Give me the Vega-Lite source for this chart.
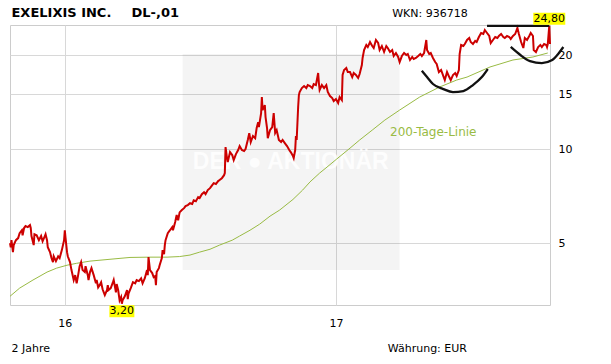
{
"$schema": "https://vega.github.io/schema/vega-lite/v6.json",
"width": 540, "height": 280,
"autosize": {"type": "none"},
"padding": {"left": 10, "top": 25, "right": 61, "bottom": 59},
"background": "#ffffff",
"config": {"view": {"stroke": "#cccccc", "strokeWidth": 1}, "font": "DejaVu Sans"},
"datasets": {
"price": [
{"date":"2015-10-19","value":5.00},{"date":"2015-10-20","value":4.85},{"date":"2015-10-21","value":5.11},{"date":"2015-10-23","value":4.68},{"date":"2015-10-24","value":4.93},{"date":"2015-10-27","value":5.11},{"date":"2015-10-30","value":5.19},{"date":"2015-11-01","value":5.38},{"date":"2015-11-04","value":5.50},{"date":"2015-11-05","value":5.30},{"date":"2015-11-07","value":5.59},{"date":"2015-11-09","value":5.67},{"date":"2015-11-12","value":5.63},{"date":"2015-11-15","value":5.71},{"date":"2015-11-16","value":5.59},{"date":"2015-11-17","value":5.27},{"date":"2015-11-19","value":5.04},{"date":"2015-11-20","value":4.93},{"date":"2015-11-21","value":5.34},{"date":"2015-11-24","value":5.30},{"date":"2015-11-27","value":5.11},{"date":"2015-11-30","value":5.27},{"date":"2015-12-02","value":5.07},{"date":"2015-12-05","value":5.27},{"date":"2015-12-06","value":5.34},{"date":"2015-12-08","value":5.11},{"date":"2015-12-09","value":4.85},{"date":"2015-12-12","value":4.68},{"date":"2015-12-14","value":4.48},{"date":"2015-12-16","value":4.35},{"date":"2015-12-17","value":4.54},{"date":"2015-12-20","value":4.38},{"date":"2015-12-23","value":4.54},{"date":"2015-12-25","value":4.48},{"date":"2015-12-28","value":4.75},{"date":"2015-12-31","value":5.11},
{"date":"2016-01-01","value":5.50},{"date":"2016-01-02","value":5.19},{"date":"2016-01-04","value":4.68},{"date":"2016-01-05","value":4.54},{"date":"2016-01-08","value":4.35},{"date":"2016-01-10","value":4.10},{"date":"2016-01-13","value":3.81},{"date":"2016-01-15","value":3.95},{"date":"2016-01-17","value":3.72},{"date":"2016-01-19","value":3.95},{"date":"2016-01-21","value":4.22},{"date":"2016-01-23","value":4.35},{"date":"2016-01-25","value":4.10},{"date":"2016-01-28","value":4.04},{"date":"2016-01-29","value":4.22},{"date":"2016-02-01","value":3.95},{"date":"2016-02-02","value":3.81},{"date":"2016-02-04","value":4.04},{"date":"2016-02-06","value":4.16},{"date":"2016-02-09","value":3.95},{"date":"2016-02-12","value":3.72},{"date":"2016-02-13","value":3.81},{"date":"2016-02-15","value":3.61},{"date":"2016-02-17","value":3.67},{"date":"2016-02-19","value":3.75},{"date":"2016-02-21","value":3.56},{"date":"2016-02-24","value":3.41},{"date":"2016-02-27","value":3.54},{"date":"2016-02-28","value":3.67},{"date":"2016-02-29","value":3.54},{"date":"2016-03-03","value":3.59},{"date":"2016-03-06","value":3.75},{"date":"2016-03-07","value":3.81},{"date":"2016-03-09","value":3.59},{"date":"2016-03-10","value":3.48},{"date":"2016-03-11","value":3.70},{"date":"2016-03-13","value":3.54},{"date":"2016-03-15","value":3.28},{"date":"2016-03-17","value":3.36},{"date":"2016-03-18","value":3.20},{"date":"2016-03-19","value":3.28},{"date":"2016-03-22","value":3.38},{"date":"2016-03-25","value":3.54},{"date":"2016-03-26","value":3.31},{"date":"2016-03-27","value":3.45},{"date":"2016-03-30","value":3.59},{"date":"2016-04-02","value":3.75},{"date":"2016-04-05","value":3.72},{"date":"2016-04-07","value":3.81},{"date":"2016-04-10","value":3.78},{"date":"2016-04-13","value":3.86},{"date":"2016-04-15","value":3.72},{"date":"2016-04-18","value":3.86},{"date":"2016-04-21","value":4.10},{"date":"2016-04-22","value":3.95},{"date":"2016-04-23","value":4.51},{"date":"2016-04-25","value":4.10},{"date":"2016-04-28","value":4.01},{"date":"2016-04-30","value":3.89},{"date":"2016-05-02","value":3.92},{"date":"2016-05-03","value":3.67},{"date":"2016-05-04","value":4.04},{"date":"2016-05-07","value":4.16},{"date":"2016-05-08","value":4.25},{"date":"2016-05-11","value":4.48},{"date":"2016-05-12","value":4.75},{"date":"2016-05-14","value":4.61},{"date":"2016-05-15","value":4.93},{"date":"2016-05-16","value":5.11},{"date":"2016-05-19","value":5.38},{"date":"2016-05-22","value":5.50},{"date":"2016-05-25","value":5.63},{"date":"2016-05-26","value":5.50},{"date":"2016-05-29","value":5.84},{"date":"2016-05-31","value":6.15},{"date":"2016-06-02","value":5.92},{"date":"2016-06-04","value":6.27},{"date":"2016-06-07","value":6.38},{"date":"2016-06-10","value":6.47},{"date":"2016-06-12","value":6.57},{"date":"2016-06-15","value":6.62},{"date":"2016-06-18","value":6.71},{"date":"2016-06-21","value":6.67},{"date":"2016-06-23","value":6.86},{"date":"2016-06-26","value":6.81},{"date":"2016-06-29","value":7.02},{"date":"2016-07-01","value":6.97},{"date":"2016-07-04","value":7.17},{"date":"2016-07-07","value":7.28},{"date":"2016-07-09","value":7.17},{"date":"2016-07-12","value":7.39},{"date":"2016-07-15","value":7.50},{"date":"2016-07-18","value":7.67},{"date":"2016-07-20","value":7.78},{"date":"2016-07-23","value":7.73},{"date":"2016-07-26","value":7.90},{"date":"2016-07-28","value":7.96},{"date":"2016-07-31","value":8.07},{"date":"2016-08-03","value":8.25},{"date":"2016-08-04","value":8.38},{"date":"2016-08-05","value":10.15},{"date":"2016-08-07","value":9.36},{"date":"2016-08-08","value":9.09},{"date":"2016-08-11","value":9.78},{"date":"2016-08-14","value":9.57},{"date":"2016-08-16","value":9.22},{"date":"2016-08-19","value":9.64},{"date":"2016-08-22","value":9.93},{"date":"2016-08-24","value":10.22},{"date":"2016-08-27","value":9.93},{"date":"2016-08-30","value":9.86},{"date":"2016-09-01","value":10.00},{"date":"2016-09-04","value":10.69},{"date":"2016-09-06","value":11.25},{"date":"2016-09-08","value":10.53},{"date":"2016-09-11","value":11.01},{"date":"2016-09-14","value":10.84},{"date":"2016-09-16","value":11.68},{"date":"2016-09-18","value":12.19},{"date":"2016-09-19","value":11.76},{"date":"2016-09-22","value":13.04},{"date":"2016-09-23","value":14.67},{"date":"2016-09-24","value":13.33},{"date":"2016-09-27","value":13.83},{"date":"2016-09-28","value":12.66},{"date":"2016-09-30","value":11.68},{"date":"2016-10-01","value":10.84},{"date":"2016-10-04","value":11.50},{"date":"2016-10-07","value":11.76},{"date":"2016-10-09","value":13.04},{"date":"2016-10-11","value":11.26},{"date":"2016-10-13","value":11.50},{"date":"2016-10-16","value":10.69},{"date":"2016-10-19","value":10.53},{"date":"2016-10-21","value":10.69},{"date":"2016-10-24","value":10.45},{"date":"2016-10-27","value":10.22},{"date":"2016-10-30","value":9.93},{"date":"2016-11-01","value":9.78},{"date":"2016-11-04","value":9.50},{"date":"2016-11-05","value":9.36},{"date":"2016-11-07","value":9.93},{"date":"2016-11-08","value":11.01},{"date":"2016-11-09","value":10.69},{"date":"2016-11-11","value":13.63},{"date":"2016-11-12","value":14.89},{"date":"2016-11-13","value":15.22},{"date":"2016-11-16","value":15.68},{"date":"2016-11-19","value":15.91},{"date":"2016-11-22","value":15.68},{"date":"2016-11-24","value":16.03},{"date":"2016-11-27","value":15.91},{"date":"2016-11-30","value":15.68},{"date":"2016-12-02","value":16.15},{"date":"2016-12-05","value":16.03},{"date":"2016-12-08","value":17.51},{"date":"2016-12-09","value":16.27},{"date":"2016-12-10","value":15.45},{"date":"2016-12-13","value":16.03},{"date":"2016-12-16","value":15.68},{"date":"2016-12-19","value":16.03},{"date":"2016-12-21","value":15.23},{"date":"2016-12-24","value":14.78},{"date":"2016-12-27","value":14.56},{"date":"2016-12-29","value":14.25},
{"date":"2017-01-01","value":14.46},{"date":"2017-01-04","value":14.04},{"date":"2017-01-06","value":14.67},{"date":"2017-01-09","value":14.35},{"date":"2017-01-10","value":17.26},{"date":"2017-01-12","value":17.91},{"date":"2017-01-15","value":18.17},{"date":"2017-01-17","value":17.64},{"date":"2017-01-20","value":17.64},{"date":"2017-01-23","value":17.00},{"date":"2017-01-25","value":17.51},{"date":"2017-01-28","value":17.26},{"date":"2017-01-31","value":16.88},{"date":"2017-02-02","value":17.38},{"date":"2017-02-05","value":18.58},{"date":"2017-02-06","value":19.57},{"date":"2017-02-08","value":20.75},{"date":"2017-02-11","value":21.53},{"date":"2017-02-13","value":21.21},{"date":"2017-02-16","value":22.01},{"date":"2017-02-19","value":21.37},{"date":"2017-02-21","value":21.06},{"date":"2017-02-24","value":22.34},{"date":"2017-02-27","value":21.85},{"date":"2017-03-01","value":20.75},{"date":"2017-03-04","value":21.37},{"date":"2017-03-07","value":20.45},{"date":"2017-03-10","value":21.37},{"date":"2017-03-12","value":21.06},{"date":"2017-03-15","value":20.45},{"date":"2017-03-18","value":20.75},{"date":"2017-03-20","value":19.85},{"date":"2017-03-23","value":20.30},{"date":"2017-03-26","value":19.71},{"date":"2017-03-28","value":18.99},{"date":"2017-03-31","value":19.85},{"date":"2017-04-03","value":20.30},{"date":"2017-04-06","value":20.00},{"date":"2017-04-08","value":20.15},{"date":"2017-04-11","value":19.28},{"date":"2017-04-14","value":19.71},{"date":"2017-04-16","value":19.42},{"date":"2017-04-19","value":19.57},{"date":"2017-04-22","value":19.85},{"date":"2017-04-25","value":20.15},{"date":"2017-04-27","value":19.85},{"date":"2017-04-30","value":20.30},{"date":"2017-05-03","value":22.34},{"date":"2017-05-04","value":20.75},{"date":"2017-05-07","value":20.15},{"date":"2017-05-09","value":20.30},{"date":"2017-05-12","value":19.57},{"date":"2017-05-15","value":18.99},{"date":"2017-05-17","value":18.72},{"date":"2017-05-20","value":17.64},{"date":"2017-05-23","value":17.91},{"date":"2017-05-26","value":17.13},{"date":"2017-05-28","value":16.63},{"date":"2017-05-31","value":17.64},{"date":"2017-06-03","value":17.00},{"date":"2017-06-05","value":16.63},{"date":"2017-06-08","value":17.26},{"date":"2017-06-11","value":17.51},{"date":"2017-06-13","value":17.13},{"date":"2017-06-16","value":17.91},{"date":"2017-06-17","value":20.15},{"date":"2017-06-19","value":21.53},{"date":"2017-06-22","value":21.37},{"date":"2017-06-24","value":21.69},{"date":"2017-06-27","value":22.34},{"date":"2017-06-30","value":22.67},{"date":"2017-07-02","value":22.01},{"date":"2017-07-05","value":21.69},{"date":"2017-07-08","value":22.18},{"date":"2017-07-10","value":22.01},{"date":"2017-07-13","value":22.84},{"date":"2017-07-16","value":23.52},{"date":"2017-07-19","value":23.35},{"date":"2017-07-21","value":24.05},{"date":"2017-07-24","value":23.52},{"date":"2017-07-27","value":23.01},{"date":"2017-07-29","value":21.85},{"date":"2017-08-01","value":22.34},{"date":"2017-08-04","value":22.84},{"date":"2017-08-07","value":22.67},{"date":"2017-08-09","value":23.01},{"date":"2017-08-12","value":23.35},{"date":"2017-08-15","value":22.84},{"date":"2017-08-17","value":22.67},{"date":"2017-08-20","value":23.01},{"date":"2017-08-23","value":22.84},{"date":"2017-08-25","value":22.51},{"date":"2017-08-28","value":23.01},{"date":"2017-08-31","value":23.35},{"date":"2017-09-03","value":24.41},{"date":"2017-09-05","value":23.35},{"date":"2017-09-08","value":22.01},{"date":"2017-09-11","value":21.06},{"date":"2017-09-13","value":22.67},{"date":"2017-09-16","value":22.34},{"date":"2017-09-19","value":23.01},{"date":"2017-09-21","value":23.52},{"date":"2017-09-24","value":23.01},{"date":"2017-09-25","value":20.75},{"date":"2017-09-28","value":20.45},{"date":"2017-10-01","value":21.21},{"date":"2017-10-04","value":21.53},{"date":"2017-10-06","value":21.21},{"date":"2017-10-09","value":21.69},{"date":"2017-10-12","value":21.53},{"date":"2017-10-13","value":21.21},{"date":"2017-10-14","value":21.69},{"date":"2017-10-16","value":24.80},{"date":"2017-10-17","value":21.69}
],
"ma200": [
{"date":"2015-10-19","value":3.38},{"date":"2015-11-01","value":3.59},{"date":"2015-11-19","value":3.81},{"date":"2015-12-08","value":4.04},{"date":"2015-12-21","value":4.16},{"date":"2016-01-04","value":4.25},{"date":"2016-01-17","value":4.31},{"date":"2016-02-04","value":4.38},{"date":"2016-03-02","value":4.44},{"date":"2016-03-29","value":4.50},{"date":"2016-04-25","value":4.51},{"date":"2016-05-18","value":4.51},{"date":"2016-06-04","value":4.53},{"date":"2016-06-18","value":4.58},{"date":"2016-07-01","value":4.68},{"date":"2016-07-15","value":4.78},{"date":"2016-07-28","value":4.93},{"date":"2016-08-14","value":5.11},{"date":"2016-08-24","value":5.27},{"date":"2016-09-07","value":5.50},{"date":"2016-09-20","value":5.75},{"date":"2016-10-04","value":6.10},{"date":"2016-10-17","value":6.38},{"date":"2016-11-04","value":6.90},{"date":"2016-11-17","value":7.39},{"date":"2016-11-27","value":7.85},{"date":"2016-12-10","value":8.38},{"date":"2016-12-20","value":8.76},{"date":"2017-01-02","value":9.29},{"date":"2017-01-20","value":10.07},{"date":"2017-02-02","value":10.69},{"date":"2017-02-19","value":11.50},{"date":"2017-03-08","value":12.38},{"date":"2017-03-28","value":13.33},{"date":"2017-04-24","value":14.67},{"date":"2017-05-21","value":15.80},{"date":"2017-06-13","value":16.63},{"date":"2017-06-27","value":17.00},{"date":"2017-07-28","value":18.31},{"date":"2017-08-28","value":19.28},{"date":"2017-09-24","value":19.71},{"date":"2017-10-14","value":20.30}
],
"marks": [
{"part":"a1","date":"2017-04-27","value":17.81},{"part":"a1","date":"2017-05-04","value":17.00},{"part":"a1","date":"2017-05-12","value":16.15},{"part":"a1","date":"2017-05-26","value":15.56},{"part":"a1","date":"2017-06-08","value":15.22},{"part":"a1","date":"2017-06-22","value":15.34},{"part":"a1","date":"2017-07-05","value":16.03},{"part":"a1","date":"2017-07-17","value":17.00},{"part":"a1","date":"2017-07-25","value":18.04},
{"part":"a2","date":"2017-08-25","value":21.22},{"part":"a2","date":"2017-09-07","value":20.00},{"part":"a2","date":"2017-09-20","value":19.13},{"part":"a2","date":"2017-10-06","value":18.85},{"part":"a2","date":"2017-10-20","value":19.28},{"part":"a2","date":"2017-10-28","value":20.15},{"part":"a2","date":"2017-11-04","value":21.22},
{"part":"top","date":"2017-07-24","value":24.8},{"part":"top","date":"2017-10-16","value":24.8}
]
},
"encoding": {
"x": {"field": "date", "type": "temporal",
"scale": {"type": "utc", "nice": false, "domain": [{"year":2015,"month":10,"date":19,"utc":true},{"year":2017,"month":10,"date":17,"utc":true}]},
"axis": {"values": [{"year":2016,"month":1,"date":1,"utc":true},{"year":2017,"month":1,"date":1,"utc":true}], "format": "%y", "title": null, "grid": true, "gridColor": "#d8d8d8", "ticks": false, "domain": false, "labelPadding": 12, "labelFont": "DejaVu Sans", "labelFontSize": 11, "labelColor": "#000000"}},
"y": {"field": "value", "type": "quantitative",
"scale": {"type": "log", "domain": [3.17, 24.95], "nice": false, "zero": false},
"axis": {"orient": "right", "values": [5, 10, 15, 20], "format": "d", "title": null, "grid": true, "gridColor": "#d8d8d8", "ticks": false, "domain": false, "labelPadding": 8, "labelFont": "DejaVu Sans", "labelFontSize": 11, "labelColor": "#000000"}}
},
"layer": [
{"data": {"values": [{"date":"2016-06-08","date2":"2017-03-28","value":20.15,"value2":4.10}]},
 "mark": {"type": "rect", "fill": "#000000", "fillOpacity": 0.045},
 "encoding": {"x2": {"field": "date2"}, "y2": {"field": "value2"}}},
{"data": {"values": [{"label": "DER ● AKTIONÄR", "date": "2016-11-01", "value": 9.09}]},
 "mark": {"type": "text", "font": "Liberation Sans", "fontWeight": "bold", "fontSize": 23, "color": "#ffffff", "opacity": 0.85, "align": "center", "baseline": "middle"},
 "encoding": {"text": {"field": "label"}}},
{"data": {"name": "ma200"}, "mark": {"type": "line", "color": "#99bb44", "strokeWidth": 1}},
{"data": {"name": "price"}, "mark": {"type": "line", "color": "#cc0000", "strokeWidth": 2}},
{"data": {"name": "marks"}, "mark": {"type": "line", "color": "#111111", "strokeWidth": 2.3, "interpolate": "monotone", "clip": false}, "encoding": {"detail": {"field": "part"}}},
{"data": {"values": [{"date":"2017-10-16","value":24.8,"label":"24,80"}]},
 "mark": {"type": "point", "shape": "M-1,-0.375H1V0.375H-1Z", "size": 1024, "filled": true, "fill": "#ffff00", "opacity": 1, "strokeWidth": 0, "yOffset": -7}},
{"data": {"values": [{"date":"2017-10-16","value":24.8,"label":"24,80"}]},
 "mark": {"type": "text", "fontSize": 11, "font": "DejaVu Sans", "color": "#000000", "align": "center", "baseline": "middle", "dy": -7},
 "encoding": {"text": {"field": "label"}}},
{"data": {"values": [{"date":"2016-03-18","value":3.2,"label":"3,20"}]},
 "mark": {"type": "point", "shape": "M-1,-0.48H1V0.48H-1Z", "size": 625, "filled": true, "fill": "#ffff00", "opacity": 1, "strokeWidth": 0, "yOffset": 7.5}},
{"data": {"values": [{"date":"2016-03-18","value":3.2,"label":"3,20"}]},
 "mark": {"type": "text", "fontSize": 11, "font": "DejaVu Sans", "color": "#000000", "align": "center", "baseline": "middle", "dy": 7.5},
 "encoding": {"text": {"field": "label"}}},
{"data": {"values": [{"label": "200-Tage-Linie", "date": "2017-03-15", "value": 11.0}]},
 "mark": {"type": "text", "fontSize": 12, "font": "DejaVu Sans", "color": "#99bb44", "align": "left", "baseline": "alphabetic"},
 "encoding": {"text": {"field": "label"}}},
{"data": {"values": [{"label": "EXELIXIS INC.", "date": "2015-10-21", "value": 26.47}, {"label": "DL-,01", "date": "2016-03-31", "value": 26.47}]},
 "mark": {"type": "text", "fontSize": 13, "fontWeight": "bold", "font": "DejaVu Sans", "color": "#000000", "align": "left", "baseline": "alphabetic", "clip": false},
 "encoding": {"text": {"field": "label"}}},
{"data": {"values": [{"label": "WKN: 936718", "date": "2017-03-18", "value": 26.47}, {"label": "2 Jahre", "date": "2015-10-21", "value": 2.25}, {"label": "Währung: EUR", "date": "2017-03-12", "value": 2.25}]},
 "mark": {"type": "text", "fontSize": 11, "font": "DejaVu Sans", "color": "#000000", "align": "left", "baseline": "alphabetic", "clip": false},
 "encoding": {"text": {"field": "label"}}}
]
}
